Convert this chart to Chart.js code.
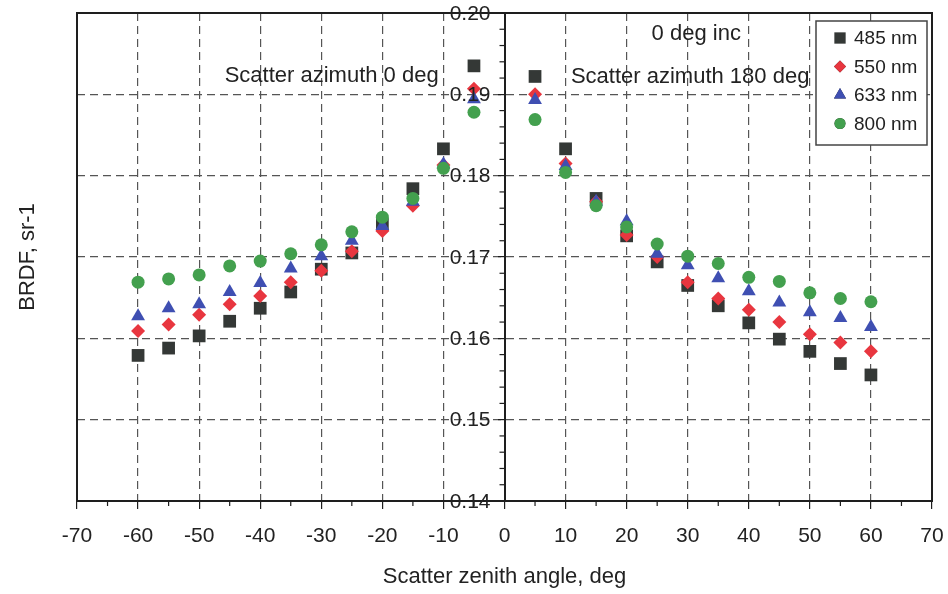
<!DOCTYPE html>
<html>
<head>
<meta charset="utf-8">
<script src="https://cdn.jsdelivr.net/npm/chart.js@4.4.1/dist/chart.umd.min.js"></script>
<style>
  html, body { margin: 0; padding: 0; background: #fff; }
  #wrap { width: 948px; height: 594px; }
</style>
</head>
<body>
<div id="wrap"><canvas id="brdf"></canvas></div>
<script>
// data
var angles = [-60, -55, -50, -45, -40, -35, -30, -25, -20, -15, -10, -5,
              5, 10, 15, 20, 25, 30, 35, 40, 45, 50, 55, 60];
var nm485 = [0.1579, 0.1588, 0.1603, 0.1621, 0.1637, 0.1657, 0.1685, 0.1705, 0.1740, 0.1784, 0.1833, 0.1935,
             0.1922, 0.1833, 0.1772, 0.1726, 0.1694, 0.1665, 0.1640, 0.1619, 0.1599, 0.1584, 0.1569, 0.1555];
var nm550 = [0.1609, 0.1617, 0.1629, 0.1642, 0.1652, 0.1669, 0.1683, 0.1707, 0.1732, 0.1763, 0.1813, 0.1907,
             0.1900, 0.1815, 0.1768, 0.1727, 0.1700, 0.1669, 0.1649, 0.1635, 0.1620, 0.1605, 0.1595, 0.1584];
var nm633 = [0.1627, 0.1637, 0.1642, 0.1657, 0.1668, 0.1686, 0.1701, 0.1720, 0.1738, 0.1768, 0.1814, 0.1894,
             0.1893, 0.1812, 0.1768, 0.1744, 0.1704, 0.1690, 0.1674, 0.1658, 0.1644, 0.1632, 0.1625, 0.1614];
var nm800 = [0.1669, 0.1673, 0.1678, 0.1689, 0.1695, 0.1704, 0.1715, 0.1731, 0.1749, 0.1772, 0.1809, 0.1878,
             0.1869, 0.1804, 0.1763, 0.1737, 0.1716, 0.1701, 0.1692, 0.1675, 0.1670, 0.1656, 0.1649, 0.1645];

var seriesNames = ["485 nm", "550 nm", "633 nm", "800 nm"];
var seriesColors = ["#343836", "#e8363f", "#3f4fb2", "#43a04e"];
var seriesStyles = ["rect", "rectRot", "triangle", "circle"];
var seriesRadius = [9, 7, 8, 6.5];

var FONT = "'Liberation Sans', Arial, sans-serif";
var TEXT = "#222";

function toPoints(vals) {
  var pts = [];
  for (var i = 0; i < angles.length; i++) {
    pts.push({x: angles[i], y: vals[i]});
  }
  return pts;
}

var allVals = [nm485, nm550, nm633, nm800];
var datasets = [];
for (var s = 0; s < allVals.length; s++) {
  datasets.push({
    label: seriesNames[s],
    data: toPoints(allVals[s]),
    pointStyle: seriesStyles[s],
    pointRadius: seriesRadius[s],
    backgroundColor: seriesColors[s],
    borderColor: seriesColors[s],
    borderWidth: 0,
    order: 4 - s   // circles on top
  });
}

// frame, minor ticks, y labels, texts, legend
var extras = {
  id: "extras",
  afterDraw: function (chart) {
    var ctx = chart.ctx;
    var a = chart.chartArea;
    var xs = chart.scales.x, ys = chart.scales.y;
    ctx.save();

    // frame
    ctx.strokeStyle = "#1e1e1e";
    ctx.lineWidth = 2;
    ctx.strokeRect(a.left, a.top, a.right - a.left, a.bottom - a.top);

    // x minor ticks (every 5 deg)
    ctx.lineWidth = 1.2;
    for (var v = -65; v <= 65; v += 10) {
      var px = xs.getPixelForValue(v);
      ctx.beginPath();
      ctx.moveTo(px, a.bottom);
      ctx.lineTo(px, a.bottom + 5);
      ctx.stroke();
    }
    // y minor ticks (every 0.002)
    var x0 = xs.getPixelForValue(0);
    for (var k = 0; k <= 30; k++) {
      if (k % 5 === 0) continue;
      var py = ys.getPixelForValue(0.14 + k * 0.002);
      ctx.beginPath();
      ctx.moveTo(x0 - 5, py);
      ctx.lineTo(x0, py);
      ctx.stroke();
    }

    // y tick labels, left of the centre axis
    ctx.fillStyle = TEXT;
    ctx.font = "21px " + FONT;
    ctx.textAlign = "right";
    ctx.textBaseline = "middle";
    ys.ticks.forEach(function (t) {
      ctx.fillText(t.value.toFixed(2), x0 - 14, ys.getPixelForValue(t.value) + 1);
    });

    // text labels in the plot
    ctx.textAlign = "center";
    ctx.font = "22px " + FONT;
    ctx.fillText("0 deg inc", xs.getPixelForValue(31.4), ys.getPixelForValue(0.1974));
    ctx.fillText("Scatter azimuth 0 deg", xs.getPixelForValue(-28.3), ys.getPixelForValue(0.1923));
    ctx.fillText("Scatter azimuth 180 deg", xs.getPixelForValue(30.4), ys.getPixelForValue(0.1921));

    // y title
    ctx.save();
    ctx.translate(28, (a.top + a.bottom) / 2);
    ctx.rotate(-Math.PI / 2);
    ctx.font = "22px " + FONT;
    ctx.fillText("BRDF, sr-1", 0, 0);
    ctx.restore();

    // legend box
    var lx = 816, ly = 21, lw = 111, lh = 124;
    ctx.fillStyle = "#fff";
    ctx.fillRect(lx, ly, lw, lh);
    ctx.strokeStyle = "#444";
    ctx.lineWidth = 1.5;
    ctx.strokeRect(lx, ly, lw, lh);
    ctx.font = "19px " + FONT;
    ctx.textAlign = "left";
    for (var i = 0; i < seriesNames.length; i++) {
      var cy = ly + 17 + i * 28.5;
      Chart.helpers.drawPoint(ctx, {
        pointStyle: seriesStyles[i],
        radius: seriesRadius[i] - 1,
        rotation: 0,
        borderWidth: 0
      }, lx + 24, cy);
      ctx.fillStyle = seriesColors[i];
      ctx.fill();
      ctx.fillStyle = TEXT;
      ctx.fillText(seriesNames[i], lx + 38, cy + 1);
    }
    ctx.restore();
  }
};

var gridColor = "#555";

var chart = new Chart(document.getElementById("brdf"), {
  type: "scatter",
  data: { datasets: datasets },
  options: {
    responsive: true,
    maintainAspectRatio: false,
    animation: false,
    layout: { padding: { left: 77, right: 16, top: 13, bottom: 0 } },
    plugins: {
      legend: { display: false },
      tooltip: { enabled: false }
    },
    scales: {
      x: {
        type: "linear",
        min: -70,
        max: 70,
        afterFit: function (scale) {
          scale.height = 93;
          scale.paddingLeft = 0;
          scale.paddingRight = 0;
        },
        ticks: {
          stepSize: 10,
          color: TEXT,
          font: { family: FONT, size: 21 },
          padding: 15,
          maxRotation: 0
        },
        grid: {
          color: gridColor,
          lineWidth: 1.2,
          tickColor: "#1e1e1e",
          tickBorderDash: [],
          tickLength: 8
        },
        border: { display: true, color: "#1e1e1e", width: 2, dash: [8, 5] },
        title: {
          display: true,
          text: "Scatter zenith angle, deg",
          color: TEXT,
          font: { family: FONT, size: 22 },
          padding: { top: 0, bottom: 4 }
        }
      },
      y: {
        type: "linear",
        position: { x: 0 },
        min: 0.14,
        max: 0.20,
        afterFit: function (scale) { scale.width = 0; },
        ticks: {
          display: false,
          stepSize: 0.01
        },
        grid: {
          color: gridColor,
          lineWidth: 1.2,
          tickColor: "#1e1e1e",
          tickBorderDash: [],
          tickLength: 6
        },
        border: { display: true, color: "#1e1e1e", width: 2, dash: [8, 5] }
      }
    }
  },
  plugins: [extras]
});
</script>
</body>
</html>
